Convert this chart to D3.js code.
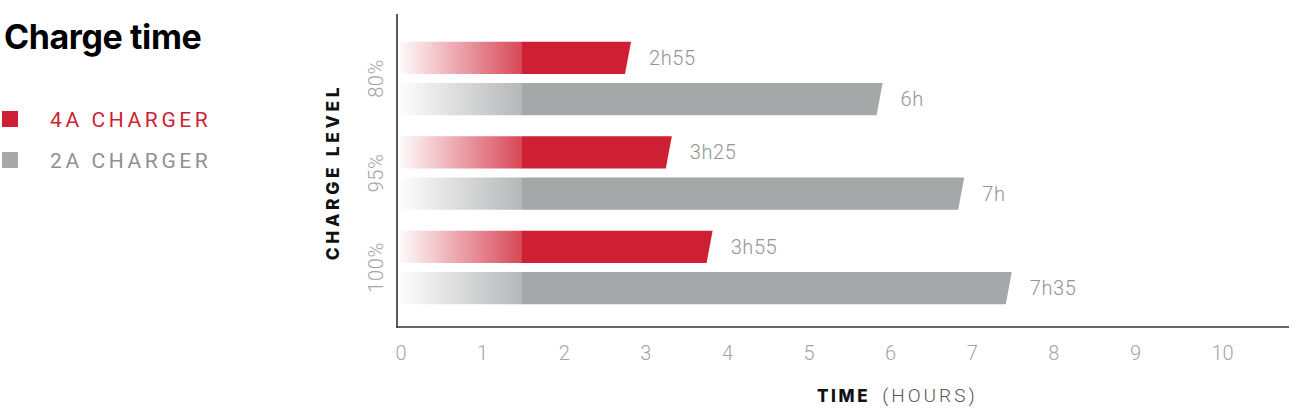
<!DOCTYPE html>
<html><head><meta charset="utf-8">
<script src="https://cdn.jsdelivr.net/npm/d3@7"></script>
<style>body{margin:0;background:#fff}svg{display:block}</style>
</head><body>
<svg id="c" width="1300" height="418"></svg>
<script>
const categories = ["80%", "95%", "100%"];
const seriesNames = ["4A CHARGER", "2A CHARGER"];
const values4A = [2.917, 3.417, 3.917];
const values2A = [6, 7, 7.583];
const labels4A = ["2h55", "3h25", "3h55"];
const labels2A = ["6h", "7h", "7h35"];
const xTicks = [0, 1, 2, 3, 4, 5, 6, 7, 8, 9, 10];
const colors = ["#cf1f33", "#a6a7a9"];

const svg = d3.select("#c");
const lightFont = "Roboto, 'Helvetica Neue', Arial, sans-serif";
const boldFont = "Inter, Roboto, Arial, sans-serif";

const x = d3.scaleLinear().domain([0, 10]).range([395, 1211]);
const y0 = d3.scaleBand().domain(categories).range([41.7, 304.2]).paddingInner(0.222).paddingOuter(0);
const y1 = d3.scaleBand().domain(seriesNames).range([0, y0.bandwidth()]).paddingInner(0.22).paddingOuter(0);

// gradients
const defs = svg.append("defs");
const gradX0 = 400, gradX1 = 1289, solidAt = 522;
const off = (solidAt - gradX0) / (gradX1 - gradX0);
colors.forEach((c, i) => {
  const g = defs.append("linearGradient").attr("id", "g" + i)
    .attr("gradientUnits", "userSpaceOnUse")
    .attr("x1", gradX0).attr("x2", gradX1).attr("y1", 0).attr("y2", 0);
  g.append("stop").attr("offset", 0).attr("stop-color", c).attr("stop-opacity", 0.02);
  g.append("stop").attr("offset", off).attr("stop-color", c).attr("stop-opacity", 0.82);
  g.append("stop").attr("offset", off).attr("stop-color", c).attr("stop-opacity", 1);
  g.append("stop").attr("offset", 1).attr("stop-color", c).attr("stop-opacity", 1);
});

// Title
svg.append("text").attr("x", 4).attr("y", 49).text("Charge time")
  .attr("font-family", boldFont).attr("font-weight", 700).attr("font-size", 34)
  .attr("letter-spacing", -0.4).attr("fill", "#000");

// Legend
seriesNames.forEach((s, i) => {
  const yy = 111 + i * 41;
  svg.append("rect").attr("x", 2).attr("y", yy).attr("width", 16).attr("height", 16).attr("fill", colors[i]);
  svg.append("text").attr("x", 50).attr("y", yy + 16).text(s)
    .attr("font-family", lightFont).attr("font-weight", 400).attr("font-size", 21)
    .attr("letter-spacing", 3.6).attr("fill", i === 0 ? "#cf1f33" : "#8f9092");
});

// bars
const rows = [];
categories.forEach((c, i) => {
  rows.push({cat: c, s: seriesNames[0], v: values4A[i], lab: labels4A[i], ci: 0});
  rows.push({cat: c, s: seriesNames[1], v: values2A[i], lab: labels2A[i], ci: 1});
});
const x0 = 400;
svg.append("g").selectAll("path").data(rows).join("path")
  .attr("d", d => {
    const top = y0(d.cat) + y1(d.s), h = y1.bandwidth(), xe = x(d.v);
    return `M${x0},${top}L${xe - 2},${top}L${xe - 8},${top + h}L${x0},${top + h}Z`;
  })
  .attr("fill", d => `url(#g${d.ci})`);

svg.append("g").selectAll("text").data(rows).join("text")
  .attr("x", d => x(d.v) + 16)
  .attr("y", d => y0(d.cat) + y1(d.s) + y1.bandwidth() / 2)
  .attr("dy", "0.35em")
  .text(d => d.lab)
  .attr("font-family", lightFont).attr("font-weight", 300).attr("font-size", 20)
  .attr("letter-spacing", 0.6)
  .attr("fill", "#939496");

// axes lines
svg.append("line").attr("x1", 397).attr("x2", 397).attr("y1", 14).attr("y2", 327.5)
  .attr("stroke", "#333").attr("stroke-width", 1.6);
svg.append("line").attr("x1", 396.2).attr("x2", 1289).attr("y1", 327).attr("y2", 327)
  .attr("stroke", "#333").attr("stroke-width", 1.6);

// x ticks
const xAxis = d3.axisBottom(x).tickValues(xTicks).tickSize(0).tickPadding(0);
const gx = svg.append("g").attr("transform", "translate(0,360)").call(xAxis);
gx.select(".domain").remove();
gx.selectAll("text").attr("dy", 0).attr("y", 0).attr("text-anchor", "start")
  .attr("font-family", lightFont).attr("font-weight", 300).attr("font-size", 20)
  .attr("fill", "#a3a4a6");

// y category labels
categories.forEach(c => {
  const cy = y0(c) + y0.bandwidth() / 2;
  svg.append("text").attr("transform", `translate(383,${cy}) rotate(-90)`)
    .attr("text-anchor", "middle").text(c)
    .attr("font-family", lightFont).attr("font-weight", 300).attr("font-size", 20)
    .attr("letter-spacing", 0.6)
    .attr("fill", "#a3a4a6");
});

// y title
svg.append("text").attr("transform", "translate(339,172) rotate(-90)")
  .attr("text-anchor", "middle").text("CHARGE LEVEL")
  .attr("font-family", boldFont).attr("font-weight", 800).attr("font-size", 17.5)
  .attr("letter-spacing", 3.6).attr("fill", "#111");

// x title
const xt = svg.append("text").attr("x", 817).attr("y", 402)
  .attr("font-size", 17).attr("fill", "#111");
xt.append("tspan").text("TIME").attr("font-family", boldFont).attr("font-weight", 800).attr("letter-spacing", 2.6);
xt.append("tspan").text("(HOURS)").attr("dx", 12).attr("font-family", lightFont).attr("font-weight", 300)
  .attr("font-size", 19).attr("letter-spacing", 3).attr("fill", "#555");
</script>
</body></html>
